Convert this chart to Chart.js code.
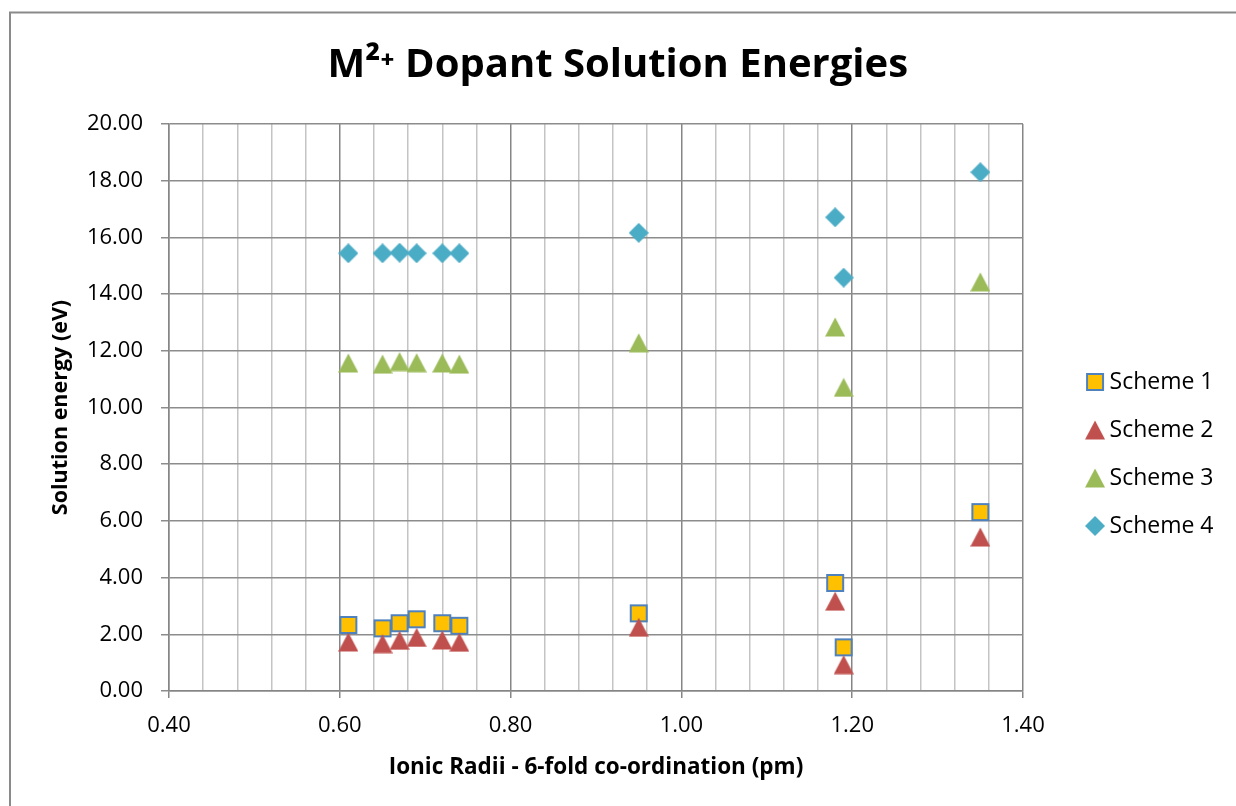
<!DOCTYPE html>
<html><head><meta charset="utf-8">
<script src="https://cdn.jsdelivr.net/npm/chart.js@4.4.1/dist/chart.umd.min.js"></script>
<style>html,body{margin:0;padding:0;background:#fff;overflow:hidden}canvas{display:block}</style>
</head><body>
<canvas id="c" width="1236" height="806"></canvas>
<script>
// ---- data ----
const ionicRadii = [0.61, 0.65, 0.67, 0.69, 0.72, 0.74, 0.95, 1.18, 1.19, 1.35];
const scheme1 = [2.33, 2.21, 2.39, 2.53, 2.39, 2.30, 2.74, 3.81, 1.54, 6.31];
const scheme2 = [1.73, 1.67, 1.79, 1.89, 1.80, 1.72, 2.25, 3.17, 0.93, 5.43];
const scheme3 = [11.57, 11.53, 11.62, 11.58, 11.57, 11.53, 12.28, 12.84, 10.71, 14.43];
const scheme4 = [15.44, 15.44, 15.46, 15.44, 15.44, 15.44, 16.16, 16.71, 14.58, 18.30];
const seriesNames = ['Scheme 1', 'Scheme 2', 'Scheme 3', 'Scheme 4'];
const chartTitle = 'M\u00B2\u207A Dopant Solution Energies';
const xTitle = 'Ionic Radii - 6-fold co-ordination (pm)';
const yTitle = 'Solution energy (eV)';
const xMin = 0.40, xMax = 1.40, xMinorStep = 0.04, xMajorStep = 0.20;
const yMin = 0, yMax = 20, yStep = 2;

const FONT = '"Open Sans", "Noto Sans", "DejaVu Sans", sans-serif';

function makeMarker(kind, fill, stroke, shiftX) {
  shiftX = shiftX || 0;
  const S = 20, W = S + 2 * Math.abs(shiftX);
  const c = document.createElement('canvas');
  c.width = W; c.height = S;
  const g = c.getContext('2d');
  const cx = W / 2 + shiftX;
  g.fillStyle = fill;
  if (kind === 'square') {
    g.fillRect(cx - 9, 1, 18, 18);
    g.strokeStyle = stroke; g.lineWidth = 2;
    g.strokeRect(cx - 8, 2, 16, 16);
  } else if (kind === 'triangle') {
    g.beginPath(); g.moveTo(cx, 0.5); g.lineTo(cx + 10, 19.5); g.lineTo(cx - 10, 19.5); g.closePath(); g.fill();
  } else {
    g.beginPath(); g.moveTo(cx, 0); g.lineTo(cx + 10, 10); g.lineTo(cx, 20); g.lineTo(cx - 10, 10); g.closePath(); g.fill();
  }
  return c;
}
const kinds = ['square', 'triangle', 'triangle', 'diamond'];
const fills = ['#FFC000', '#C0504D', '#9BBB59', '#4BACC6'];
const strokes = ['#4F81BD', null, null, null];
const pointMarkers = kinds.map((k, i) => makeMarker(k, fills[i], strokes[i], 0));
const LEG_SHIFT = 22;
const legendMarkers = kinds.map((k, i) => makeMarker(k, fills[i], strokes[i], LEG_SHIFT));

const seriesValues = [scheme1, scheme2, scheme3, scheme4];
const datasets = seriesValues.map((vals, i) => ({
  label: seriesNames[i],
  data: ionicRadii.map((x, j) => ({x: x, y: vals[j]})),
  pointStyle: pointMarkers[i],
  backgroundColor: fills[i],
  borderColor: fills[i],
  showLine: false,
  order: 4 - i
}));

const isMajor = v => Math.abs(v / xMajorStep - Math.round(v / xMajorStep)) < 1e-6;

const framePlugin = {
  id: 'frame',
  beforeDraw(chart) {
    const g = chart.ctx;
    g.save();
    g.fillStyle = '#fff'; g.fillRect(0, 0, chart.width, chart.height);
    g.strokeStyle = '#8A8A8A'; g.lineWidth = 2;
    g.strokeRect(10, 12.5, 3000, 3000);
    g.restore();
  }
};

new Chart(document.getElementById('c'), {
  type: 'scatter',
  data: {datasets},
  plugins: [framePlugin],
  options: {
    responsive: false,
    devicePixelRatio: 1,
    animation: false,
    events: [],
    layout: {padding: {left: 12, top: 0, right: 12.5, bottom: 22}},
    plugins: {
      tooltip: {enabled: false},
      title: {
        display: true, text: chartTitle, color: '#000',
        font: {family: FONT, size: 40, weight: 'bold'},
        padding: {top: 41.5, bottom: 34.5}
      },
      legend: {
        position: 'right',
        title: {display: true, text: ' ', font: {family: FONT, size: 10}, padding: {top: 0, bottom: 112}},
        labels: {
          usePointStyle: true, pointStyleWidth: 50, padding: 25, color: '#000',
          font: {family: FONT, size: 23},
          generateLabels(chart) {
            const items = Chart.defaults.plugins.legend.labels.generateLabels(chart);
            items.sort((a, b) => a.datasetIndex - b.datasetIndex);
            items.forEach(it => { it.pointStyle = legendMarkers[it.datasetIndex]; });
            return items;
          }
        }
      }
    },
    scales: {
      x: {
        type: 'linear', min: xMin, max: xMax,
        afterFit(s) { s.height = 93; },
        ticks: {
          stepSize: xMinorStep, autoSkip: false, minRotation: 0, maxRotation: 0,
          padding: 15, color: '#000', font: {family: FONT, size: 22},
          callback: v => isMajor(v) ? v.toFixed(2) : ''
        },
        grid: {
          color: c => isMajor(c.tick.value) ? '#868686' : '#C4C4C4',
          tickColor: c => isMajor(c.tick.value) ? '#868686' : 'rgba(0,0,0,0)',
          lineWidth: 1.5, tickLength: 7
        },
        border: {color: '#868686', width: 1.5},
        title: {display: true, text: xTitle, color: '#000', font: {family: FONT, size: 22.5, weight: 'bold'}, padding: {top: 0, bottom: 3}}
      },
      y: {
        type: 'linear', min: yMin, max: yMax,
        afterFit(s) { s.width = 157; },
        ticks: {stepSize: yStep, padding: 18, color: '#000', font: {family: FONT, size: 22}, callback: v => v.toFixed(2)},
        grid: {color: '#8C8C8C', tickColor: '#8C8C8C', lineWidth: 1.5, tickLength: 8},
        border: {color: '#868686', width: 1.5},
        title: {display: true, text: yTitle, color: '#000', font: {family: FONT, size: 21.5, weight: 'bold'}, padding: {top: 36, bottom: 0}}
      }
    }
  }
});
</script>
</body></html>
